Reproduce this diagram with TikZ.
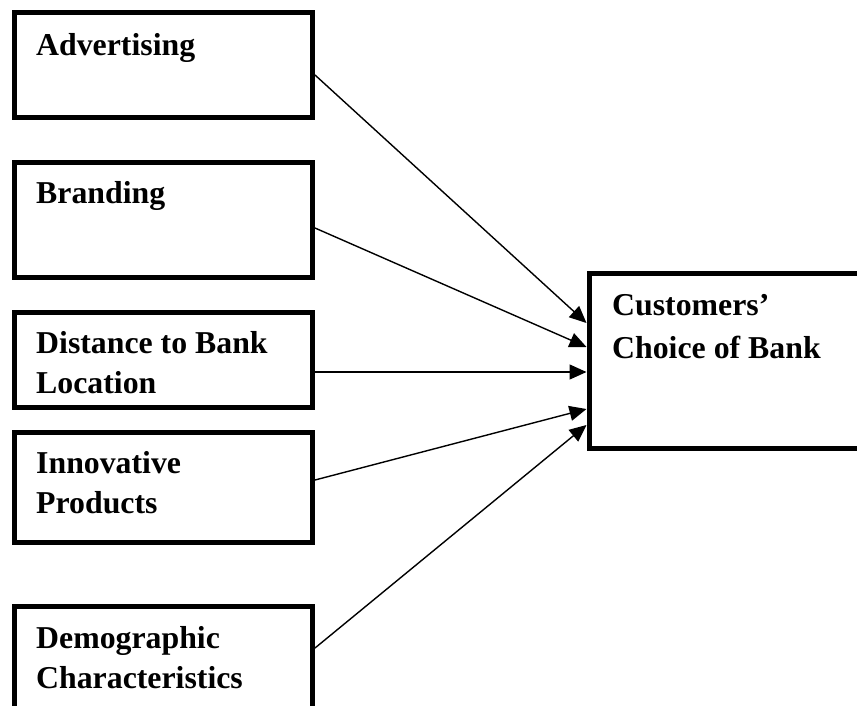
\documentclass[tikz,border=0pt]{standalone}
\usepackage{fontspec}
\setmainfont{Liberation Serif}
\usetikzlibrary{arrows.meta,calc}
\begin{document}
\begin{tikzpicture}[x=1pt,y=-1pt,
  box/.style={draw=black,line width=5pt,rectangle,inner sep=0pt,fill=white},
  lbl/.style={anchor=base west,inner sep=0pt,font=\fontsize{31.8}{40}\selectfont\bfseries},
  arr/.style={line width=1.4pt,-{Triangle[length=17pt,width=15pt]}}]
\clip (0,0) rectangle (857,705);
\fill[white] (0,0) rectangle (857,705);
% source boxes
\node[box,minimum width=298pt,minimum height=105pt] (adv) at (163.5,65) {};
\node[box,minimum width=298pt,minimum height=115pt] (bra) at (163.5,219.5) {};
\node[box,minimum width=298pt,minimum height=95pt] (dis) at (163.5,359.5) {};
\node[box,minimum width=298pt,minimum height=110pt] (inn) at (163.5,487) {};
\node[box,minimum width=298pt,minimum height=134pt] (dem) at (163.5,673) {};
% target box
\node[box,minimum width=291pt,minimum height=175pt] (cc) at (734.5,360.5) {};
% labels
\node[lbl] (tadv) at (36,55) {Advertising};
\node[lbl] (tbra) at (36,203) {Branding};
\node[lbl] (tdis1) at (36,353) {Distance to Bank};
\node[lbl] (tdis2) at (36,393) {Location};
\node[lbl] (tinn1) at (36,473) {Innovative};
\node[lbl] (tinn2) at (36,513) {Products};
\node[lbl] (tdem1) at (36,648) {Demographic};
\node[lbl] (tdem2) at (36,688) {Characteristics};
\node[lbl] (tcc1) at (612,315) {Customers’};
\node[lbl] (tcc2) at (612,358) {Choice of Bank};
% connectors
\draw[arr] ($(adv.east)+(0,10)$) -- ($(cc.west)+(0,-37.5)$);
\draw[arr] ($(bra.east)+(0,8.5)$) -- ($(cc.west)+(0,-13.5)$);
\draw[arr] ($(dis.east)+(0,12.5)$) -- ($(cc.west)+(0,11.5)$);
\draw[arr] ($(inn.east)+(0,-7)$) -- ($(cc.west)+(0,48.5)$);
\draw[arr] ($(dem.east)+(0,-25)$) -- ($(cc.west)+(0,64.5)$);
\end{tikzpicture}
\end{document}
